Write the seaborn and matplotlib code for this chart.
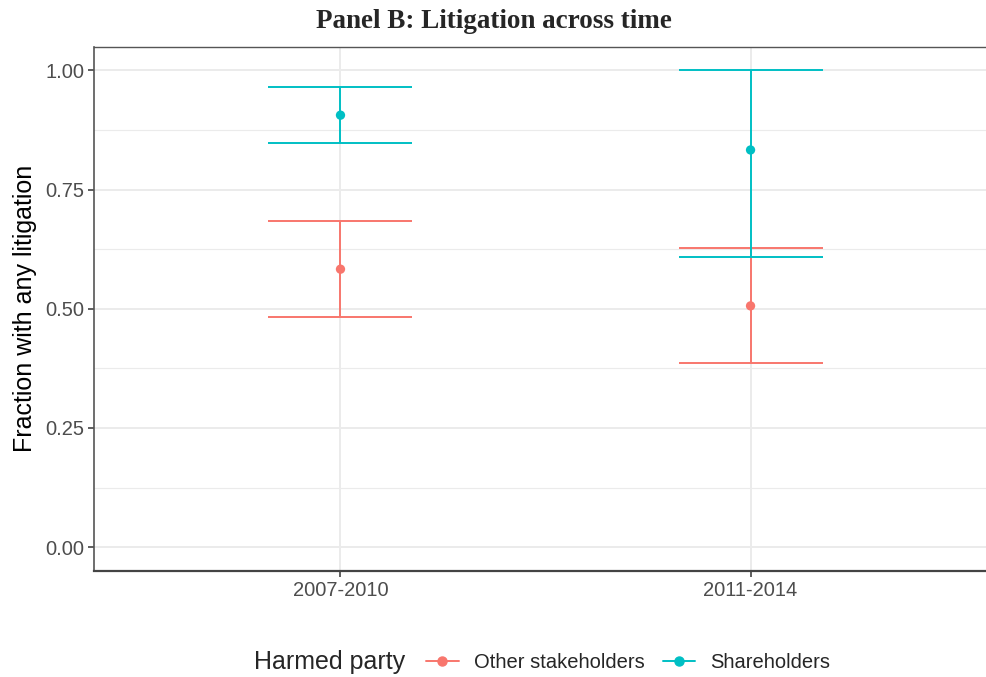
import matplotlib
matplotlib.use("Agg")
import matplotlib.pyplot as plt
import seaborn as sns
import pandas as pd
import numpy as np
from matplotlib.lines import Line2D
from matplotlib.ticker import MultipleLocator

periods = ["2007-2010", "2011-2014"]
groups = ["Other stakeholders", "Shareholders"]
other_mean = [0.583, 0.506]
other_low = [0.482, 0.386]
other_high = [0.684, 0.627]
share_mean = [0.906, 0.833]
share_low = [0.847, 0.608]
share_high = [0.966, 1.000]

colors = {"Other stakeholders": "#F8766D", "Shareholders": "#00BFC4"}

df = pd.DataFrame({
    "period": periods * 2,
    "group": [groups[0]] * 2 + [groups[1]] * 2,
    "mean": other_mean + share_mean,
    "low": other_low + share_low,
    "high": other_high + share_high,
})

sns.set_theme(style="white")
plt.rcParams["font.family"] = ["Liberation Sans", "DejaVu Sans"]

fig = plt.figure(figsize=(9.87, 6.77), dpi=100)
ax = fig.add_axes([0.0957, 0.1566, 0.914, 0.7747])

pos = {p: i for i, p in enumerate(periods)}
for g in groups:
    sub = df[df["group"] == g]
    xs = [pos[p] for p in sub["period"]]
    ax.errorbar(xs, sub["mean"],
                yerr=[sub["mean"] - sub["low"], sub["high"] - sub["mean"]],
                fmt="none", ecolor=colors[g], elinewidth=1.4, capsize=51.5,
                capthick=1.4, zorder=3)

sns.scatterplot(data=df, x="period", y="mean", hue="group", palette=colors,
                s=45, edgecolor="none", ax=ax, legend=False, zorder=4)

ax.set_xlim(-0.6, 1.6)
ax.set_ylim(-0.05, 1.05)
ax.set_xticks([0, 1])
ax.set_xticklabels(periods)
ax.yaxis.set_major_locator(MultipleLocator(0.25))
ax.yaxis.set_minor_locator(MultipleLocator(0.125))
ax.set_yticks([0, 0.25, 0.5, 0.75, 1.0])
ax.set_yticklabels(["0.00", "0.25", "0.50", "0.75", "1.00"])
ax.grid(True, which="major", color="#EBEBEB", linewidth=1.4, zorder=0)
ax.grid(True, which="minor", axis="y", color="#EBEBEB", linewidth=0.8, zorder=0)
ax.set_axisbelow(True)
ax.tick_params(axis="both", which="major", length=4.5, width=1.1, color="#333333",
               labelsize=14.5, labelcolor="#4D4D4D", pad=3, left=True, bottom=True)
ax.tick_params(axis="y", which="minor", length=0)
for s in ax.spines.values():
    s.set_color("#555555")
    s.set_linewidth(1.0)
ax.spines["right"].set_visible(False)
ax.spines["bottom"].set_linewidth(1.6)
ax.spines["bottom"].set_color("#444444")
ax.spines["left"].set_linewidth(1.2)
ax.set_xlabel("")
ax.set_ylabel("Fraction with any litigation", fontsize=18, color="black", labelpad=6)

fig.text(0.5, 0.968, "Panel B: Litigation across time", ha="center", va="center",
         fontsize=19.5, fontweight="bold", family=["Liberation Serif", "DejaVu Serif"])

handles = [Line2D([0], [0], color=colors[g], marker="o", markersize=6.5, linewidth=1.4)
           for g in groups]
fig.text(0.257, 0.022, "Harmed party", fontsize=18, ha="left", va="center")
leg = fig.legend(handles, groups, loc="center left", bbox_to_anchor=(0.432, 0.022),
                 ncol=2, frameon=False, fontsize=14.5, handlelength=1.6,
                 handletextpad=0.75, columnspacing=0.9, borderaxespad=0, borderpad=0)

fig.savefig("out.png", dpi=100)
